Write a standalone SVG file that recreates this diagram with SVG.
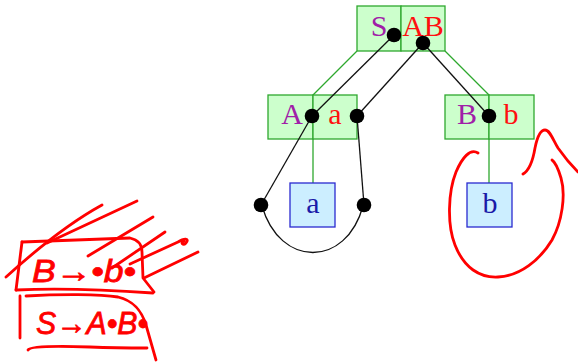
<svg xmlns="http://www.w3.org/2000/svg" width="578" height="364" viewBox="0 0 578 364">
  <style>
    .cell { fill: #ccffcc; stroke: #2ea82e; stroke-width: 1.3; }
    .leaf { fill: #cceeff; stroke: #2a2ad0; stroke-width: 1.3; }
    .lbl { font-family: "Liberation Serif", "Times New Roman", serif; font-size: 30px; text-anchor: middle; }
    .nt { fill: #a020a8; }
    .t { fill: #ff1010; }
    .lt { fill: #1a1aa8; }
    .tree { stroke: #2ea82e; stroke-width: 1.3; fill: none; }
    .link { stroke: #111; stroke-width: 1.3; fill: none; }
    .dot { fill: #000; }
    .ink { stroke: #ff0000; stroke-width: 2.8; fill: none; stroke-linecap: round; stroke-linejoin: round; }
    .inktext { font-family: "Liberation Sans", "DejaVu Sans", sans-serif; font-style: italic; fill: #ff0000; stroke: #ff0000; stroke-width: 0.8; }
  </style>

  <!-- tree edges -->
  <g id="connectors">
    <line class="tree" x1="357" y1="51" x2="313" y2="95"/>
    <line class="tree" x1="445" y1="51" x2="489" y2="95"/>
    <line class="tree" x1="313" y1="139" x2="313" y2="183"/>
    <line class="tree" x1="489" y1="139" x2="489" y2="183"/>
  </g>

  <!-- root: S -> A B -->
  <g id="node-S">
    <rect class="cell" x="357" y="6" width="44" height="45"/>
    <rect class="cell" x="401" y="6" width="44" height="45"/>
    <text class="lbl nt" x="379" y="36">S</text>
    <text class="lbl t" x="423" y="36">AB</text>
  </g>

  <!-- A -> a -->
  <g id="node-A">
    <rect class="cell" x="268" y="95" width="45" height="44"/>
    <rect class="cell" x="313" y="95" width="44" height="44"/>
    <text class="lbl nt" x="292" y="124">A</text>
    <text class="lbl t" x="335" y="124">a</text>
  </g>

  <!-- B -> b -->
  <g id="node-B">
    <rect class="cell" x="445" y="95" width="44" height="44"/>
    <rect class="cell" x="489" y="95" width="45" height="44"/>
    <text class="lbl nt" x="467" y="124">B</text>
    <text class="lbl t" x="511" y="124">b</text>
  </g>

  <!-- leaves -->
  <g id="leaf-a">
    <rect class="leaf" x="290" y="183" width="45" height="44"/>
    <text class="lbl lt" x="313" y="213">a</text>
  </g>
  <g id="leaf-b">
    <rect class="leaf" x="467" y="183" width="45" height="44"/>
    <text class="lbl lt" x="490" y="213">b</text>
  </g>

  <!-- item pointers -->
  <g id="links">
    <line class="link" x1="394" y1="35" x2="312" y2="116"/>
    <line class="link" x1="312" y1="116" x2="261" y2="205"/>
    <line class="link" x1="423" y1="43" x2="357" y2="116"/>
    <line class="link" x1="357" y1="116" x2="364" y2="205"/>
    <line class="link" x1="423" y1="43" x2="489" y2="116"/>
    <path class="link" d="M262,206 C280,268 346,268 363,206"/>
    <circle class="dot" cx="394" cy="35" r="7.3"/>
    <circle class="dot" cx="423" cy="43" r="7.3"/>
    <circle class="dot" cx="312" cy="116" r="7.3"/>
    <circle class="dot" cx="357" cy="116" r="7.3"/>
    <circle class="dot" cx="489" cy="116" r="7.3"/>
    <circle class="dot" cx="261" cy="205" r="7.3"/>
    <circle class="dot" cx="364" cy="205" r="7.3"/>
  </g>

  <!-- hand-drawn ink -->
  <g id="ink-right">
    <path class="ink" d="M478,153 C470,148 462,158 456,172 C448,192 447,225 455,245 C464,268 480,278 498,277 C520,276 540,260 552,240 C562,222 566,195 561,178 C558,168 555,162 552,160"/>
    <path class="ink" d="M523,174 C530,170 533,160 535,148 C537,138 540,130 545,130 C550,130 553,140 558,148 C565,158 572,166 578,172"/>
  </g>

  <g id="ink-left">
    <!-- upper box -->
    <path class="ink" d="M22,242 L130,238 C139,240 142,246 142,252 L143,278 L154,292"/>
    <path class="ink" d="M22,242 L16,290"/>
    <path class="ink" d="M16,290 C60,288 110,290 153,293"/>
    <!-- hatching -->
    <path class="ink" d="M6,277 Q60,228 102,205"/>
    <path class="ink" d="M47,243 L137,201"/>
    <path class="ink" d="M88,256 L153,217"/>
    <path class="ink" d="M112,268 L165,232"/>
    <path class="ink" d="M130,264 L178,242 C184,238 190,238 186,243 C183,246 180,243 184,241"/>
    <path class="ink" d="M144,278 L198,252"/>
    <!-- lower box -->
    <path class="ink" d="M20,296 L20,338"/>
    <path class="ink" d="M26,296 C60,294 100,294 118,297 C135,301 142,312 146,325 L156,360"/>
    <path class="ink" d="M28,350 C30,346 60,346 90,347 C115,348 135,348 147,348"/>
    <text class="inktext" x="32" y="282" font-size="32" textLength="104" lengthAdjust="spacingAndGlyphs">B→•b•</text>
    <text class="inktext" x="36" y="334" font-size="32" textLength="112" lengthAdjust="spacingAndGlyphs">S→A•B•</text>
  </g>
</svg>
